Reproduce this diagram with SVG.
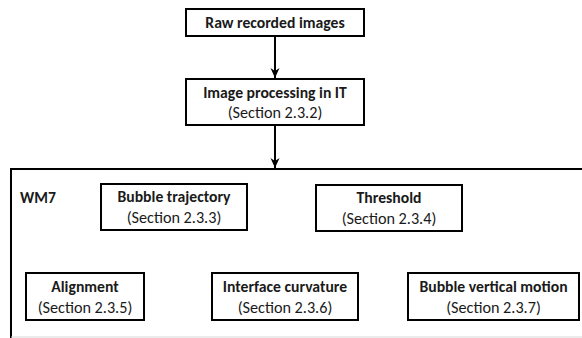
<svg xmlns="http://www.w3.org/2000/svg" width="582" height="338" viewBox="0 0 582 338">
<defs>
<style>
.box{fill:#fff;stroke:#000;stroke-width:2}
.t{font-family:Carlito,"Liberation Sans",Arial,sans-serif;font-size:15.7px;font-weight:bold;fill:#1a1a1a;text-anchor:middle}
.s{font-family:Carlito,"Liberation Sans",Arial,sans-serif;font-size:16.2px;fill:#1a1a1a;text-anchor:middle}
.edge{stroke:#000;stroke-width:2;fill:none}
</style>
<marker id="arr" viewBox="0 0 10 10" refX="10" refY="5" markerWidth="10" markerHeight="10" markerUnits="userSpaceOnUse" orient="auto">
<path d="M0,0.5 L10,5 L0,9.5 L3,5 Z" fill="#000"/>
</marker>
</defs>
<rect width="582" height="338" fill="#fff"/>
<g id="wm7">
<path d="M11,338 L11,169 L590,169" class="edge"/>
<line x1="11" y1="337" x2="582" y2="337" stroke="#d8d8d8" stroke-width="1"/>
<text x="20" y="203" class="t" style="text-anchor:start">WM7</text>
</g>
<g id="raw">
<rect x="186" y="9" width="178" height="27" class="box"/>
<text x="275" y="28" class="t">Raw recorded images</text>
</g>
<g id="imgproc">
<rect x="186" y="79" width="178" height="46" class="box"/>
<text x="275" y="98" class="t">Image processing in IT</text>
<text x="275" y="118" class="s">(Section 2.3.2)</text>
</g>
<g id="traj">
<rect x="101" y="184" width="146" height="46" class="box"/>
<text x="174" y="202" class="t">Bubble trajectory</text>
<text x="174" y="223" class="s">(Section 2.3.3)</text>
</g>
<g id="threshold">
<rect x="316" y="185" width="146" height="46" class="box"/>
<text x="389" y="203" class="t">Threshold</text>
<text x="389" y="224" class="s">(Section 2.3.4)</text>
</g>
<g id="alignment">
<rect x="26" y="273" width="118" height="47" class="box"/>
<text x="85" y="292" class="t">Alignment</text>
<text x="85" y="313" class="s">(Section 2.3.5)</text>
</g>
<g id="curvature">
<rect x="212" y="273" width="146" height="47" class="box"/>
<text x="285" y="292" class="t">Interface curvature</text>
<text x="285" y="313" class="s">(Section 2.3.6)</text>
</g>
<g id="vertical">
<rect x="408" y="273" width="171" height="47" class="box"/>
<text x="493.5" y="292" class="t">Bubble vertical motion</text>
<text x="493.5" y="313" class="s">(Section 2.3.7)</text>
</g>
<g id="connectors">
<line x1="275" y1="36" x2="275" y2="78" class="edge" marker-end="url(#arr)"/>
<line x1="275" y1="125" x2="275" y2="168" class="edge" marker-end="url(#arr)"/>
</g>
</svg>
